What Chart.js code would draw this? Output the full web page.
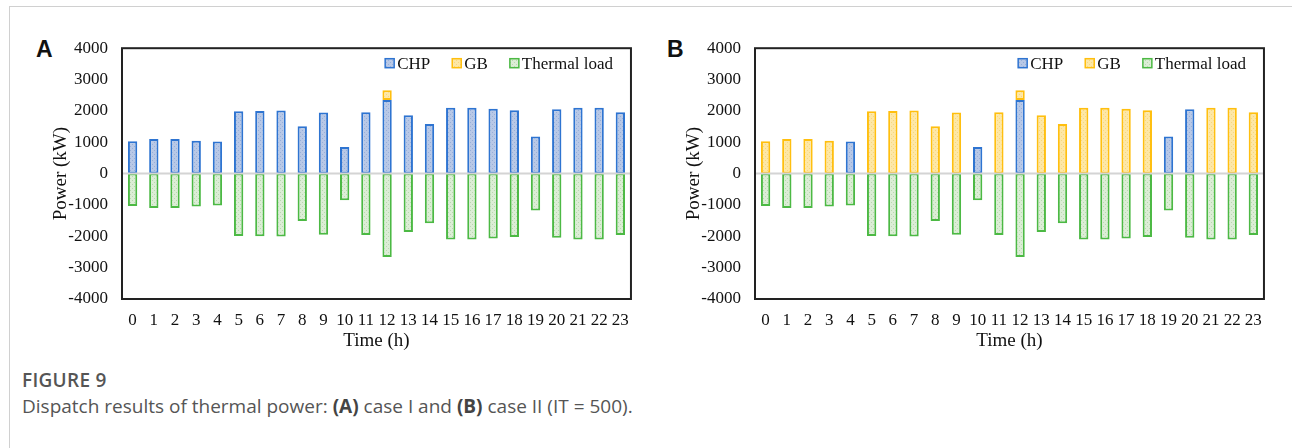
<!DOCTYPE html>
<html lang="en">
<head>
    <meta charset="UTF-8">
    <title>Figure 9</title>
    <style>
        body {
            margin: 0;
            width: 1292px;
            height: 448px;
            background: #fff;
            position: relative;
            overflow: hidden;
            font-family: "Open Sans", sans-serif;
        }
        .frame {
            position: absolute;
            left: 9px;
            top: 6px;
            right: 0;
            bottom: 0;
            border-left: 1px solid #d0d0d0;
            border-top: 1px solid #d0d0d0;
        }
        .panel {
            position: absolute;
            top: 24px;
            width: 620px;
            height: 334px;
        }
        .letter {
            position: absolute;
            top: 36px;
            font-family: "Liberation Sans", Arial, sans-serif;
            font-weight: bold;
            font-size: 23px;
            color: #111;
        }
        .caption {
            position: absolute;
            left: 22px;
            color: #555;
            font-size: 19px;
            white-space: nowrap;
        }
        .caption b { font-weight: 700; color: #444; }
    </style>
    <script src="https://cdn.jsdelivr.net/npm/chart.js"></script>
</head>
<body>
    <div class="frame"></div>
    <div class="letter" style="left:36px">A</div>
    <div class="letter" style="left:667px">B</div>
    <div class="panel" style="left:20px"><canvas id="chartA" width="620" height="334"></canvas></div>
    <div class="panel" style="left:653px"><canvas id="chartB" width="620" height="334"></canvas></div>
    <div class="caption" style="top:367px;font-weight:600;letter-spacing:0.3px">FIGURE 9</div>
    <div class="caption" style="top:393px">Dispatch results of thermal power: <b>(A)</b> case I and <b>(B)</b> case II (IT = 500).</div>
    <script>
        const hours = ['0','1','2','3','4','5','6','7','8','9','10','11','12','13','14','15','16','17','18','19','20','21','22','23'];
        const yTicks = [-4000, -3000, -2000, -1000, 0, 1000, 2000, 3000, 4000];

        // case I
        const chpA = [1030, 1100, 1100, 1050, 1020, 1990, 2000, 2010, 1510, 1950, 850, 1960, 2350, 1860, 1580, 2100, 2100, 2070, 2020, 1180, 2050, 2100, 2100, 1960];
        const gbA = [null, null, null, null, null, null, null, null, null, null, null, null, 310, null, null, null, null, null, null, null, null, null, null, null];
        const loadA = [-1030, -1100, -1100, -1050, -1020, -1990, -2000, -2010, -1510, -1950, -850, -1960, -2660, -1860, -1580, -2100, -2100, -2070, -2020, -1180, -2050, -2100, -2100, -1960];

        // case II
        const chpB = [null, null, null, null, 1020, null, null, null, null, null, 850, null, 2350, null, null, null, null, null, null, 1180, 2050, null, null, null];
        const gbB = [1030, 1100, 1100, 1050, null, 1990, 2000, 2010, 1510, 1950, null, 1960, 310, 1860, 1580, 2100, 2100, 2070, 2020, null, null, 2100, 2100, 1960];
        const loadB = [-1030, -1100, -1100, -1050, -1020, -1990, -2000, -2010, -1510, -1950, -850, -1960, -2660, -1860, -1580, -2100, -2100, -2070, -2020, -1180, -2050, -2100, -2100, -1960];

        const serif = '"Liberation Serif", "Times New Roman", serif';

        // small dotted texture like the excel pattern fill
        function makePattern(base, dot) {
            const c = document.createElement('canvas');
            c.width = 4;
            c.height = 4;
            const g = c.getContext('2d');
            g.fillStyle = base;
            g.fillRect(0, 0, 4, 4);
            g.fillStyle = dot;
            g.fillRect(0, 0, 1, 1);
            g.fillRect(2, 2, 1, 1);
            return g.createPattern(c, 'repeat');
        }

        const chpFill = makePattern('#b8c8e6', '#98afd9');
        const gbFill = makePattern('#fde7a6', '#f6d77e');
        const loadFill = makePattern('#dcedd6', '#b9d9b0');

        // frame, zero line and the legend inside the plot
        const decor = {
            id: 'decor',
            afterDatasetsDraw(chart) {
                const { ctx, chartArea: a } = chart;
                const y0 = chart.scales.y.getPixelForValue(0);
                ctx.save();
                ctx.strokeStyle = '#d4d4d4';
                ctx.lineWidth = 2;
                ctx.beginPath();
                ctx.moveTo(a.left, y0);
                ctx.lineTo(a.right, y0);
                ctx.stroke();

                ctx.strokeStyle = '#222';
                ctx.lineWidth = 2;
                ctx.strokeRect(a.left, a.top, a.right - a.left, a.bottom - a.top);

                ctx.font = '17px ' + serif;
                ctx.textBaseline = 'middle';
                const items = chart.data.datasets;
                let x = a.right - 18;
                const ly = a.top + 15;
                for (let i = items.length - 1; i >= 0; i--) {
                    const ds = items[i];
                    const w = ctx.measureText(ds.label).width;
                    x -= w;
                    ctx.fillStyle = '#111';
                    ctx.fillText(ds.label, x, ly + 1);
                    x -= 12;
                    ctx.fillStyle = ds.backgroundColor;
                    ctx.fillRect(x, ly - 4.5, 9, 9);
                    ctx.strokeStyle = ds.borderColor;
                    ctx.lineWidth = 1.5;
                    ctx.strokeRect(x, ly - 4.5, 9, 9);
                    x -= 22;
                }
                ctx.restore();
            }
        };

        function buildChart(id, chp, gb, load) {
            const ctx = document.getElementById(id).getContext('2d');
            return new Chart(ctx, {
                type: 'bar',
                data: {
                    labels: hours,
                    datasets: [
                        { label: 'CHP', data: chp, backgroundColor: chpFill, borderColor: '#2e74d1' },
                        { label: 'GB', data: gb, backgroundColor: gbFill, borderColor: '#ffbf0f' },
                        { label: 'Thermal load', data: load, backgroundColor: loadFill, borderColor: '#4cb944' }
                    ]
                },
                options: {
                    responsive: false,
                    animation: false,
                    layout: { padding: { top: 0, right: 7, left: 0, bottom: 0 } },
                    datasets: {
                        bar: {
                            categoryPercentage: 1,
                            barPercentage: 0.44,
                            borderWidth: 2,
                            borderSkipped: false
                        }
                    },
                    plugins: {
                        legend: { display: false },
                        tooltip: { enabled: false }
                    },
                    scales: {
                        x: {
                            stacked: true,
                            grid: { display: false, drawTicks: false },
                            border: { display: false },
                            ticks: { color: '#111', font: { family: serif, size: 17 }, maxRotation: 0, autoSkip: false, padding: 11 },
                            title: { display: true, text: 'Time (h)', color: '#111', font: { family: serif, size: 19 }, padding: { top: 0, bottom: 6 } },
                            afterFit(s) { s.height = 59; }
                        },
                        y: {
                            stacked: true,
                            min: -4000,
                            max: 4000,
                            afterBuildTicks(s) { s.ticks = yTicks.map(v => ({ value: v })); },
                            grid: { display: false, drawTicks: false },
                            border: { display: false },
                            ticks: { color: '#111', font: { family: serif, size: 17 }, padding: 14, callback: v => String(v) },
                            title: { display: true, text: 'Power (kW)', color: '#111', font: { family: serif, size: 19 }, padding: { top: 30, bottom: 0 } },
                            afterFit(s) { s.width = 102; }
                        }
                    }
                },
                plugins: [decor]
            });
        }

        buildChart('chartA', chpA, gbA, loadA);
        buildChart('chartB', chpB, gbB, loadB);
    </script>
</body>
</html>
